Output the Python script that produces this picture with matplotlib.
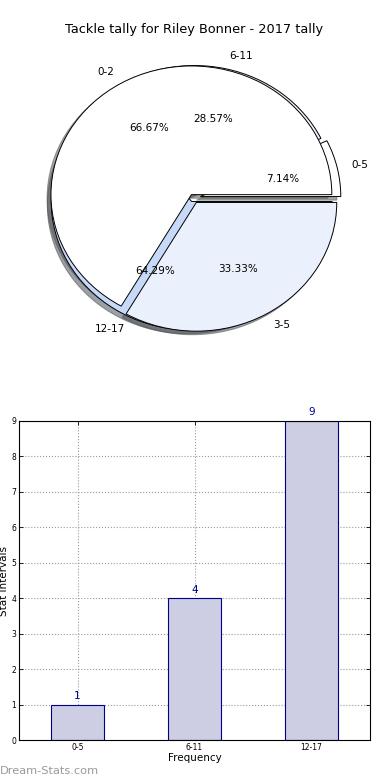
import matplotlib
matplotlib.use("Agg")
import matplotlib.pyplot as plt

# ---------------------------------------------------------------------------
# Data
# ---------------------------------------------------------------------------
TITLE = "Tackle tally for Riley Bonner - 2017 tally"

range_labels = ["0-5", "6-11", "12-17"]
range_counts = [1, 4, 9]

split_labels = ["0-2", "3-5"]
split_counts = [2, 1]

NAVY = "#00008b"
BAR_FACE = "#cdcde3"
PIE_COLORS = ["white", "#eaf1fc", "#c6d9f8"]

plt.rcParams.update({
    "font.family": "DejaVu Sans",
    "font.size": 8,
})

fig = plt.figure(figsize=(3.9, 7.8), dpi=100)
fig.text(0.497, 1 - 30 / 780, TITLE, ha="center", va="center", fontsize=9.3)

# ---------------------------------------------------------------------------
# Pie (two overlaid pies, elliptical like the old renderer)
# ---------------------------------------------------------------------------
ax1 = fig.add_axes([32 / 390, 1 - 346 / 780, 323 / 390, 296 / 780])
wedge_kw = dict(edgecolor="black", linewidth=0.7)
ax1.pie(range_counts, labels=range_labels, autopct="%1.2f%%",
        colors=PIE_COLORS, explode=[0.05, 0.03, 0.03],
        shadow=True, startangle=0, wedgeprops=wedge_kw,
        textprops=dict(fontsize=7.5))
ax1.pie(split_counts, labels=split_labels, autopct="%1.2f%%",
        colors=PIE_COLORS[:2], explode=[0.03, 0.04],
        shadow=True, startangle=0, wedgeprops=wedge_kw,
        textprops=dict(fontsize=7.5))
ax1.set_aspect("auto")
ax1.set_xlim(-1.15, 1.15)
ax1.set_ylim(-1.15, 1.15)
ax1.axis("off")

# ---------------------------------------------------------------------------
# Bar chart
# ---------------------------------------------------------------------------
ax2 = fig.add_axes([19 / 390, 1 - 740 / 780, 351 / 390, 319 / 780])
x = list(range(len(range_labels)))
ax2.bar(x, range_counts, width=0.45, color=BAR_FACE, edgecolor=NAVY,
        linewidth=0.8, zorder=2)
for xi, v in zip(x, range_counts):
    ax2.text(xi, v + 0.1, str(v), ha="center", va="bottom",
             color=NAVY, fontsize=7.5)
ax2.set_xlim(-0.5, 2.5)
ax2.set_ylim(0, 9)
ax2.set_xticks(x)
ax2.set_xticklabels(range_labels, fontsize=5.5)
ax2.set_yticks(range(10))
ax2.tick_params(axis="y", labelsize=5.5)
ax2.tick_params(direction="in", top=True, right=True, length=3, width=0.6, pad=2)
ax2.grid(True, linestyle=":", color="#999999", linewidth=0.8, zorder=0)
ax2.set_axisbelow(True)
ax2.set_xlabel("Frequency", fontsize=7.5, labelpad=1)
ax2.set_ylabel("Stat Intervals", fontsize=7.5, labelpad=2)

fig.text(0.0, 1 - 771 / 780, "Dream-Stats.com", ha="left", va="center",
         fontsize=8.2, color="#9a9a9a")

fig.savefig("out.png", dpi=100)
